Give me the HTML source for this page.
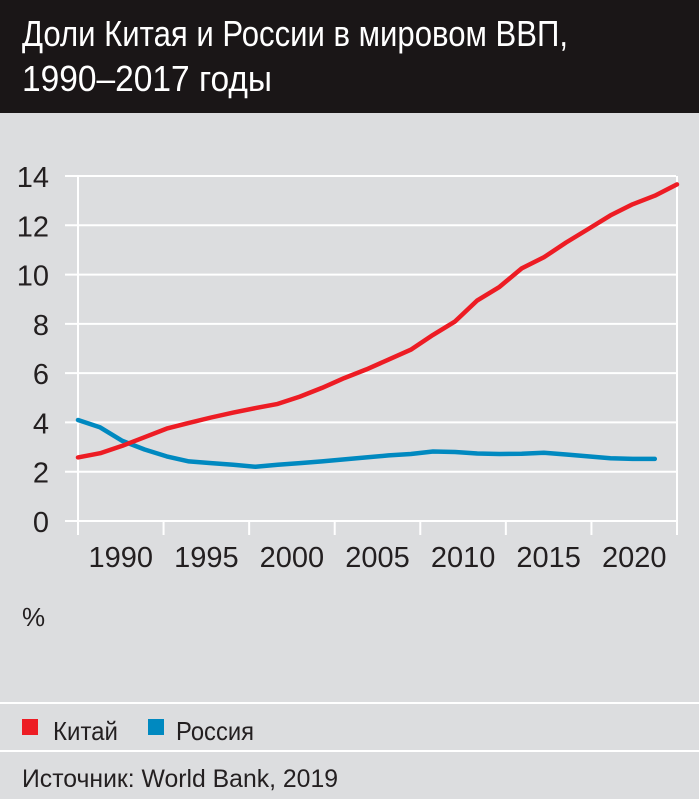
<!DOCTYPE html>
<html><head><meta charset="utf-8"><style>
html,body{margin:0;padding:0;background:#dcdddf;}
svg{display:block;font-family:"Liberation Sans Narrow","Liberation Sans",sans-serif;}
</style></head><body>
<svg id="chart" width="699" height="799" viewBox="0 0 699 799" xmlns="http://www.w3.org/2000/svg">
<rect x="0" y="0" width="699" height="799" fill="#dcdddf"/>
<rect x="0" y="0" width="699" height="113" fill="#1a1617"/>
<text x="22" y="46" fill="#fff" font-size="36" textLength="546" lengthAdjust="spacingAndGlyphs">Доли Китая и России в мировом ВВП,</text>
<text x="22" y="91" fill="#fff" font-size="36" textLength="250" lengthAdjust="spacingAndGlyphs">1990–2017 годы</text>
<g id="grid"></g>
<g id="yticks"></g>
<g id="xticks"></g>
<g id="series"></g>
<text x="22" y="626" fill="#231f20" font-size="26">%</text>
<line x1="0" y1="703" x2="699" y2="703" stroke="#fff" stroke-width="2"/>
<g>
<rect x="22" y="719" width="16" height="16" fill="#ed1c24"/>
<text x="53" y="740" fill="#231f20" font-size="26" textLength="65" lengthAdjust="spacingAndGlyphs">Китай</text>
</g>
<g>
<rect x="148" y="719" width="16" height="16" fill="#0089c0"/>
<text x="176" y="740" fill="#231f20" font-size="26" textLength="78" lengthAdjust="spacingAndGlyphs">Россия</text>
</g>
<line x1="0" y1="751" x2="699" y2="751" stroke="#fff" stroke-width="2"/>
<text x="22" y="787" fill="#231f20" font-size="25" textLength="316" lengthAdjust="spacingAndGlyphs">Источник: World Bank, 2019</text>
</svg>
<script>
const years = [1990,1991,1992,1993,1994,1995,1996,1997,1998,1999,2000,2001,2002,2003,2004,2005,2006,2007,2008,2009,2010,2011,2012,2013,2014,2015,2016,2017];
const chinaValues = [2.58,2.75,3.05,3.4,3.75,3.98,4.2,4.4,4.58,4.75,5.05,5.4,5.8,6.15,6.55,6.95,7.55,8.1,8.95,9.5,10.25,10.7,11.3,11.85,12.4,12.85,13.2,13.66];
const russiaValues = [4.1,3.8,3.25,2.9,2.62,2.42,2.35,2.28,2.2,2.28,2.35,2.42,2.5,2.58,2.66,2.72,2.82,2.8,2.74,2.72,2.73,2.77,2.7,2.62,2.55,2.52,2.52];
const yTicks = [0,2,4,6,8,10,12,14];
const xTickLabels = ["1990","1995","2000","2005","2010","2015","2020"];

const NS = "http://www.w3.org/2000/svg";
const X0 = 78, X1 = 677, Y0 = 521, Y1 = 176;
function xScale(i){ return X0 + (X1 - X0) * i / (years.length - 1); }
function yScale(v){ return Y0 - (Y0 - Y1) * v / 14; }
function mk(tag, attrs){ const e = document.createElementNS(NS, tag); for (const k in attrs) e.setAttribute(k, attrs[k]); return e; }

const grid = document.getElementById('grid');
const yt = document.getElementById('yticks');
yTicks.forEach(v => {
  const l = mk('line', {x1:65, x2:676, y1:yScale(v), y2:yScale(v), stroke:'#fff', 'stroke-width':2});
  
  
  grid.appendChild(l);
  const t = mk('text', {x:49, y:yScale(v)+11, 'text-anchor':'end', fill:'#231f20', 'font-size':29});
  
  
  t.textContent = v;
  yt.appendChild(t);
});
const tickStep = (X1 - X0) / 7;
for (let k = 0; k <= 7; k++) {
  const x = X0 + tickStep * k;
  const full = (k === 0 || k === 7);
  const l = mk('line', {x1:x, x2:x, y1: full ? Y1 : Y0, y2:535, stroke:'#fff', 'stroke-width':2});
  
  
  grid.appendChild(l);
}
const xt = document.getElementById('xticks');
xTickLabels.forEach((s, k) => {
  const t = mk('text', {x: X0 + tickStep * (k + 0.5), y:567, 'text-anchor':'middle', fill:'#231f20', 'font-size':29});
  
  
  t.textContent = s;
  xt.appendChild(t);
});
const ser = document.getElementById('series');
function line(vals, color, name){
  const d = vals.map((v,i) => (i ? 'L' : 'M') + xScale(i).toFixed(1) + ',' + yScale(v).toFixed(1)).join(' ');
  const p = mk('path', {d:d, fill:'none', stroke:color, 'stroke-width':4.5, 'stroke-linejoin':'round', 'stroke-linecap':'round'});
  
  
  ser.appendChild(p);
}
line(russiaValues, '#0089c0', 'russia-line');
line(chinaValues, '#ed1c24', 'china-line');
</script>
</body></html>
